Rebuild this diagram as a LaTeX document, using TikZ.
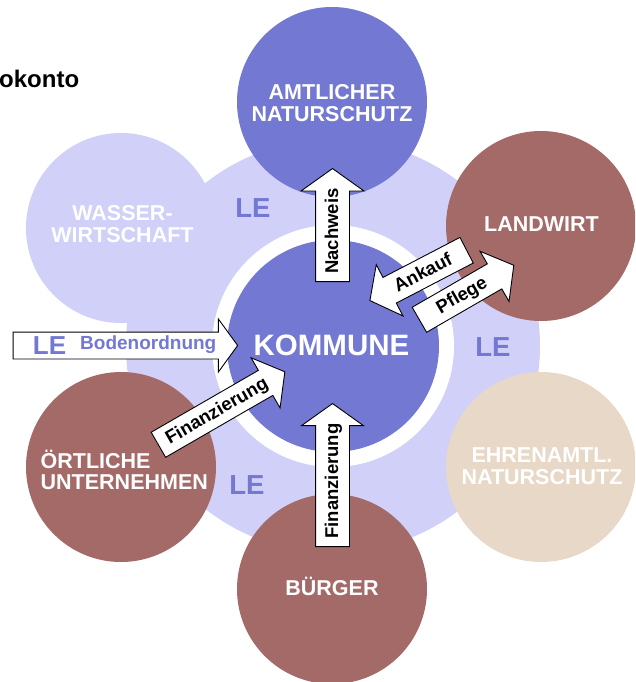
\documentclass[tikz,border=0pt]{standalone}
\usepackage{fontspec}
\setmainfont{Liberation Sans}
\usetikzlibrary{shapes.arrows}
\definecolor{kblue}{HTML}{7378D2}
\definecolor{klav}{HTML}{D0D0F8}
\definecolor{kbrown}{HTML}{A36A68}
\definecolor{kbeige}{HTML}{E7D8C8}
\begin{document}
\begin{tikzpicture}[x=1pt,y=-1pt,
  circ/.style={circle, inner sep=0pt, minimum size=190pt},
  ctext/.style={text=white, font=\bfseries\fontsize{21.5}{21.5}\selectfont, align=center, inner sep=0pt},
  letext/.style={text=kblue, font=\bfseries\fontsize{27.5}{27.5}\selectfont, inner sep=0pt},
  barrow/.style={single arrow, draw=black, line width=0.9pt, fill=white, inner xsep=0pt, inner ysep=0pt,
    font=\bfseries\fontsize{18.5}{18.5}\selectfont},
]
\clip (0,0) rectangle (635,682);
% background ring and circles
\node[circ, fill=klav, minimum size=414pt] (ring) at (333,346) {};
\node[circ, fill=klav] (wasser) at (121,228) {};
\node[circ, fill=kblue] (amt) at (332,102) {};
\node[circ, fill=kbrown] (land) at (541,226) {};
\node[circ, fill=kbeige] (ehren) at (541,467) {};
\node[circ, fill=kbrown] (buerger) at (332,589) {};
\node[circ, fill=kbrown] (oert) at (121,467) {};
\node[circ, fill=white, minimum size=242pt] (gap) at (333,346) {};
\node[circ, fill=kblue, minimum size=212pt] (kommune) at (333,346) {};
% title
\node[anchor=base west, inner sep=0pt, font=\bfseries\fontsize{24}{24}\selectfont] (title) at (-1,88) {okonto};
% circle labels
\node[ctext] (t-amt) at (332,103.3) {AMTLICHER\\NATURSCHUTZ};
\node[ctext] (t-land) at (541.5,224) {LANDWIRT};
\node[ctext] (t-ehren) at (542,466) {EHRENAMTL.\\NATURSCHUTZ};
\node[ctext] (t-buerger) at (332,586.5) {BÜRGER};
\node[ctext, align=left, anchor=west] (t-oert) at (40.5,470) {ÖRTLICHE\\UNTERNEHMEN};
\node[ctext] (t-wasser) at (122.5,224) {WASSER-\\WIRTSCHAFT};
\node[text=white, font=\bfseries\fontsize{29.5}{29.5}\selectfont, inner sep=0pt] (t-kom) at (331.5,345.5) {KOMMUNE};
% LE labels
\node[letext] (le1) at (253,208) {LE};
\node[letext] (le2) at (493,347) {LE};
\node[letext] (le3) at (247,485) {LE};
% arrows
\node[barrow, rotate=90, anchor=tail, minimum height=113pt, text height=22.1pt, text depth=10.9pt,
  single arrow head extend=14.5pt, single arrow tip angle=109] (nachweis) at (332.5,282) {Nachweis};
\node[barrow, rotate=90, anchor=tail, minimum height=143pt, text height=22.1pt, text depth=10.9pt,
  single arrow head extend=14pt, single arrow tip angle=109] (fin-b) at (332.5,547) {Finanzierung};
\node[barrow, anchor=tail, minimum height=224.5pt, text height=13pt, text depth=13pt,
  single arrow head extend=13pt, single arrow tip angle=108] (boden) at (12.7,345.5) {};
\node[letext, font=\bfseries\fontsize{26}{26}\selectfont] (le0) at (49.5,346) {LE};
\node[anchor=base west, inner sep=0pt, text=kblue, font=\bfseries\fontsize{19}{19}\selectfont] (t-boden) at (80,349.5) {Bodenordnung};
\node[barrow, rotate=30, anchor=tail, minimum height=146pt, text height=19.6pt, text depth=8.4pt,
  single arrow head extend=14.5pt, single arrow tip angle=105] (fin-o) at (158,445) {Finanzierung};
\node[barrow, rotate=27.5, shape border rotate=180, anchor=tail, minimum height=109pt, text height=19.6pt, text depth=8.4pt,
  single arrow head extend=14.5pt, single arrow tip angle=105] (ankauf) at (467,250) {Ankauf};
\node[barrow, rotate=30, anchor=tail, minimum height=109pt, text height=19.6pt, text depth=8.4pt,
  single arrow head extend=14.5pt, single arrow tip angle=105] (pflege) at (419,320) {Pflege};
\end{tikzpicture}
\end{document}
